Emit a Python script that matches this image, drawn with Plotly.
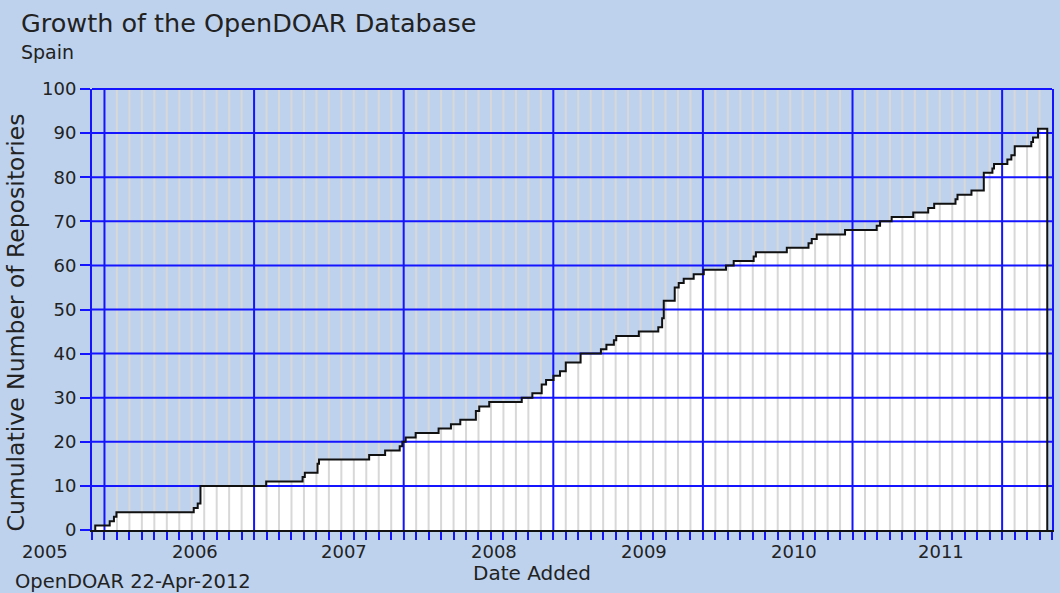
import plotly.graph_objects as go

# ---- data (x in months from the left edge of the axis) ----
step_month = [0.26, 1.42, 1.76, 1.96, 8.16, 8.48, 8.70, 13.97, 16.89, 17.07,
              18.09, 18.21, 22.23, 23.51, 24.68, 24.89, 25.16, 25.96, 27.80, 28.79,
              29.54, 30.79, 31.06, 31.86, 34.47, 35.32, 36.07, 36.42, 37.02, 37.54,
              38.00, 39.19, 40.82, 41.26, 41.86, 42.05, 43.86, 45.42, 45.73, 45.86,
              46.74, 47.06, 47.46, 48.26, 49.07, 50.85, 51.47, 53.07, 53.25, 55.73,
              57.47, 57.73, 58.13, 60.40, 62.94, 63.21, 64.14, 65.87, 67.07, 67.55,
              69.26, 69.42, 70.54, 71.53, 72.22, 72.35, 73.42, 73.74, 74.01, 75.34,
              75.48, 75.88]
cumulative = [1, 2, 3, 4, 5, 6, 10, 11, 12, 13,
              15, 16, 17, 18, 19, 20, 21, 22, 23, 24,
              25, 27, 28, 29, 30, 31, 33, 34, 35, 36,
              38, 40, 41, 42, 43, 44, 45, 46, 48, 52,
              55, 56, 57, 58, 59, 60, 61, 62, 63, 64,
              65, 66, 67, 68, 69, 70, 71, 72, 73, 74,
              75, 76, 77, 81, 82, 83, 84, 85, 87, 88,
              89, 91]
data_end_month = 76.62
x_max_month = 77

year_labels = ["2005", "2006", "2007", "2008", "2009", "2010", "2011"]
year_label_month = [-3.76, 8.24, 20.25, 32.26, 44.25, 56.27, 68.07]
major_month = [1, 13, 25, 37, 49, 61, 73]
y_ticks = list(range(0, 101, 10))

BG = "#BED2EE"
BLUE = "#1414FF"
GRID = "#D8D8D8"
TXT = "#222222"
FONT = "DejaVu Sans"

x_step = [step_month[0]] + step_month + [data_end_month]
y_step = [0] + cumulative + [0]

fig = go.Figure()

# white area below the step curve
fig.add_trace(go.Scatter(x=x_step, y=y_step, mode="lines",
                         line=dict(shape="hv", width=0, color="white"),
                         fill="tozeroy", fillcolor="white", hoverinfo="skip",
                         showlegend=False))

# minor monthly grid lines
mx, my = [], []
for m in range(1, x_max_month):
    if m in major_month:
        continue
    mx += [m, m, None]
    my += [0, 100, None]
fig.add_trace(go.Scatter(x=mx, y=my, mode="lines", line=dict(color=GRID, width=2),
                         hoverinfo="skip", showlegend=False))

# major vertical grid lines
vx, vy = [], []
for m in major_month:
    vx += [m, m, None]
    vy += [0, 100, None]
fig.add_trace(go.Scatter(x=vx, y=vy, mode="lines", line=dict(color=BLUE, width=2),
                         hoverinfo="skip", showlegend=False))

# horizontal grid lines
hx, hy = [], []
for v in y_ticks[1:]:
    hx += [0, x_max_month, None]
    hy += [v, v, None]
fig.add_trace(go.Scatter(x=hx, y=hy, mode="lines", line=dict(color=BLUE, width=2),
                         hoverinfo="skip", showlegend=False))

# step curve outline
fig.add_trace(go.Scatter(x=x_step, y=y_step, mode="lines",
                         line=dict(shape="hv", width=2, color="#111111"),
                         showlegend=False))

annotations = []
for lab, m in zip(year_labels, year_label_month):
    annotations.append(dict(text=lab, xref="paper", x=m / x_max_month, yref="paper", y=0,
                            xanchor="center", yanchor="middle", yshift=-21,
                            showarrow=False, font=dict(family=FONT, size=18, color=TXT)))

annotations += [
    dict(text="Growth of the OpenDOAR Database", xref="paper", x=0, xshift=-73,
         yref="paper", y=1, yshift=66, xanchor="left", yanchor="middle",
         showarrow=False, font=dict(family=FONT, size=25.5, color=TXT)),
    dict(text="Spain", xref="paper", x=0, xshift=-73,
         yref="paper", y=1, yshift=37, xanchor="left", yanchor="middle",
         showarrow=False, font=dict(family=FONT, size=19, color=TXT)),
    dict(text="Cumulative Number of Repositories", xref="paper", x=0, xshift=-77,
         yref="paper", y=0.5, yshift=-13, xanchor="center", yanchor="middle",
         textangle=-90, showarrow=False, font=dict(family=FONT, size=23.5, color=TXT)),
    dict(text="Date Added", xref="paper", x=(533 - 92) / 962, yref="paper", y=0, yshift=-43,
         xanchor="center", yanchor="middle",
         showarrow=False, font=dict(family=FONT, size=20, color=TXT)),
    dict(text="OpenDOAR 22-Apr-2012", xref="paper", x=0, xshift=-79,
         yref="paper", y=0, yshift=-51, xanchor="left", yanchor="middle",
         showarrow=False, font=dict(family=FONT, size=19.5, color=TXT)),
]

fig.update_layout(
    width=1060, height=593, autosize=False,
    margin=dict(l=92, r=6, t=89, b=63),
    paper_bgcolor=BG, plot_bgcolor=BG,
    showlegend=False,
    annotations=annotations,
    shapes=[dict(type="line", xref="paper", yref="paper", x0=0, x1=1, y0=1, y1=1,
                 line=dict(color=BLUE, width=2), layer="above")],
    xaxis=dict(range=[0, x_max_month], showgrid=False, zeroline=False,
               tickmode="array", tickvals=list(range(0, x_max_month + 1)),
               showticklabels=False, ticks="outside", ticklen=8, tickwidth=2,
               tickcolor=BLUE, showline=True, linecolor="#111111", linewidth=2,
               fixedrange=True),
    yaxis=dict(range=[0, 100], showgrid=False, zeroline=False,
               tickmode="array", tickvals=y_ticks,
               ticks="outside", ticklen=10, tickwidth=2, tickcolor=BLUE,
               showline=True, linecolor=BLUE, linewidth=2, mirror=True,
               tickfont=dict(family=FONT, size=18, color=TXT), fixedrange=True),
)

fig.write_html("out.html", config={"displayModeBar": False},
               post_script="document.body.style.margin='0px';"
                           "document.body.style.overflow='hidden';")
